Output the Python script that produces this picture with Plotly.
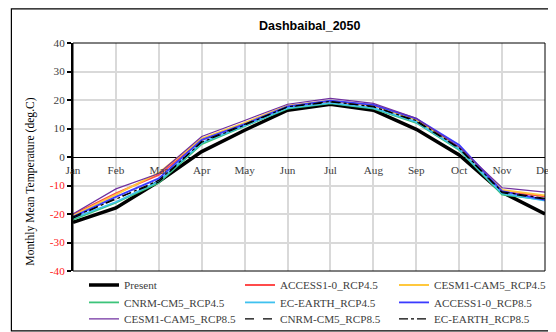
import plotly.graph_objects as go

months = ["Jan", "Feb", "Mar", "Apr", "May", "Jun", "Jul", "Aug", "Sep", "Oct", "Nov", "Dec"]

present = [-22.9, -17.9, -8.6, 1.9, 9.4, 16.4, 18.5, 16.4, 9.7, 0.7, -12.4, -20.0]
access_45 = [-20.2, -12.7, -6.3, 5.9, 11.7, 17.8, 19.5, 18.1, 13.1, 3.0, -12.1, -13.8]
cesm_45 = [-20.5, -13.2, -5.5, 6.5, 12.0, 18.0, 19.8, 18.2, 13.0, 3.2, -11.5, -13.5]
cnrm_45 = [-22.0, -16.0, -9.0, 4.5, 10.8, 17.0, 18.8, 17.0, 12.0, 2.5, -13.2, -15.0]
ecearth_45 = [-21.5, -15.8, -8.5, 5.0, 11.0, 17.2, 19.0, 17.2, 12.3, 2.8, -12.8, -15.3]
access_85 = [-21.0, -14.0, -7.5, 6.0, 11.5, 17.8, 19.8, 18.3, 13.5, 4.2, -12.0, -15.0]
cesm_85 = [-20.0, -11.2, -5.8, 7.2, 12.8, 18.5, 20.6, 18.8, 13.6, 3.5, -10.8, -12.3]
cnrm_85 = [-21.5, -14.5, -8.8, 5.5, 11.5, 17.5, 19.3, 17.8, 12.5, 3.0, -12.5, -14.8]
ecearth_85 = [-21.0, -14.8, -8.2, 5.2, 11.2, 17.6, 19.5, 17.6, 12.8, 3.2, -12.2, -14.5]

y_ticks = [40, 30, 20, 10, 0, -10, -20, -30, -40]

series = [
    ("Present", present, "#000000", 3.5, "solid"),
    ("ACCESS1-0_RCP4.5", access_45, "#ff4b4b", 1.8, "solid"),
    ("CESM1-CAM5_RCP4.5", cesm_45, "#ffc83d", 1.8, "solid"),
    ("CNRM-CM5_RCP4.5", cnrm_45, "#3cc47a", 1.8, "solid"),
    ("EC-EARTH_RCP4.5", ecearth_45, "#3fc1ef", 1.8, "solid"),
    ("ACCESS1-0_RCP8.5", access_85, "#3b3bff", 1.8, "solid"),
    ("CESM1-CAM5_RCP8.5", cesm_85, "#7030a0", 1.2, "solid"),
    ("CNRM-CM5_RCP8.5", cnrm_85, "#000000", 1.2, "dash"),
    ("EC-EARTH_RCP8.5", ecearth_85, "#000000", 1.2, "dashdot"),
]

# figure size (page has an 8px body margin)
W, H = 548, 324
OFF = 8
# plot area in page pixels
PL, PR, PT, PB = 72.7, 545.4, 42.7, 270.7
pw = PR - PL
ph = PB - PT


def px_x(x):  # page px -> paper x
    return (x - PL) / pw


def px_y(y):  # page px -> paper y
    return (PB - y) / ph


# legend grid (3 columns x 3 rows), page pixels
leg_cols = [84, 240, 394]
leg_rows = [285, 302.4, 318.8]

fig = go.Figure()
legends = {}
for i, (name, vals, color, width, dash) in enumerate(series):
    key = "legend" if i == 0 else f"legend{i + 1}"
    fig.add_trace(go.Scatter(x=months, y=vals, mode="lines", name=name, legend=key,
                             line=dict(color=color, width=width, dash=dash)))
    col, row = i % 3, i // 3
    legends[key] = dict(
        xref="container", yref="container",
        x=(leg_cols[col] - OFF) / W, y=1 - (leg_rows[row] - OFF) / H,
        xanchor="left", yanchor="middle",
        font=dict(family="Liberation Serif", size=11.2, color="#404040"),
        bgcolor="rgba(0,0,0,0)", borderwidth=0,
    )

ticktext = [(f'<span style="color:#ff2020">{v}</span>' if v < 0 else str(v)) for v in y_ticks]

fig.update_layout(
    width=W, height=H,
    margin=dict(l=PL - OFF, r=W - (PR - OFF), t=PT - OFF, b=H - (PB - OFF), autoexpand=False),
    paper_bgcolor="white", plot_bgcolor="white",
    font=dict(family="Liberation Serif", size=11.2, color="#404040"),
    showlegend=True,
    xaxis=dict(
        range=[0, 11], anchor="free", position=0.5,
        showgrid=True, gridcolor="#d9d9d9", gridwidth=1.5,
        showline=False, ticks="outside", ticklen=3, tickcolor="rgba(0,0,0,0)",
        tickfont=dict(size=11.2, color="#404040"),
        zeroline=False, fixedrange=True,
    ),
    yaxis=dict(
        range=[-40, 40], tickvals=y_ticks, ticktext=ticktext,
        showgrid=True, gridcolor="#d9d9d9", gridwidth=1.5,
        zeroline=True, zerolinecolor="#000000", zerolinewidth=1,
        showline=True, linecolor="#000000", linewidth=2,
        ticks="outside", ticklen=4, tickcolor="#000000", tickwidth=1.5,
        tickfont=dict(size=11.2, color="#404040"),
    ),
    annotations=[
        dict(text="<b>Dashbaibal_2050</b>", xref="paper", yref="paper",
             x=0.5, y=px_y(25.5), xanchor="center", yanchor="middle",
             showarrow=False, font=dict(family="Liberation Sans", size=12.5, color="#000000")),
        dict(text="Monthly Mean Temperature (deg.C)", xref="paper", yref="paper",
             x=px_x(30), y=px_y(181), xanchor="center", yanchor="middle",
             textangle=-90, showarrow=False,
             font=dict(family="Liberation Serif", size=11.6, color="#000000")),
    ],
    shapes=[
        dict(type="rect", xref="paper", yref="paper", x0=0, x1=1, y0=0, y1=1,
             line=dict(color="#000000", width=1)),
        dict(type="rect", xref="paper", yref="paper",
             x0=px_x(11), x1=px_x(560),
             y0=px_y(330.5), y1=px_y(8.6),
             line=dict(color="#000000", width=1.2)),
    ],
    **legends,
)

fig.write_html("out.html")
